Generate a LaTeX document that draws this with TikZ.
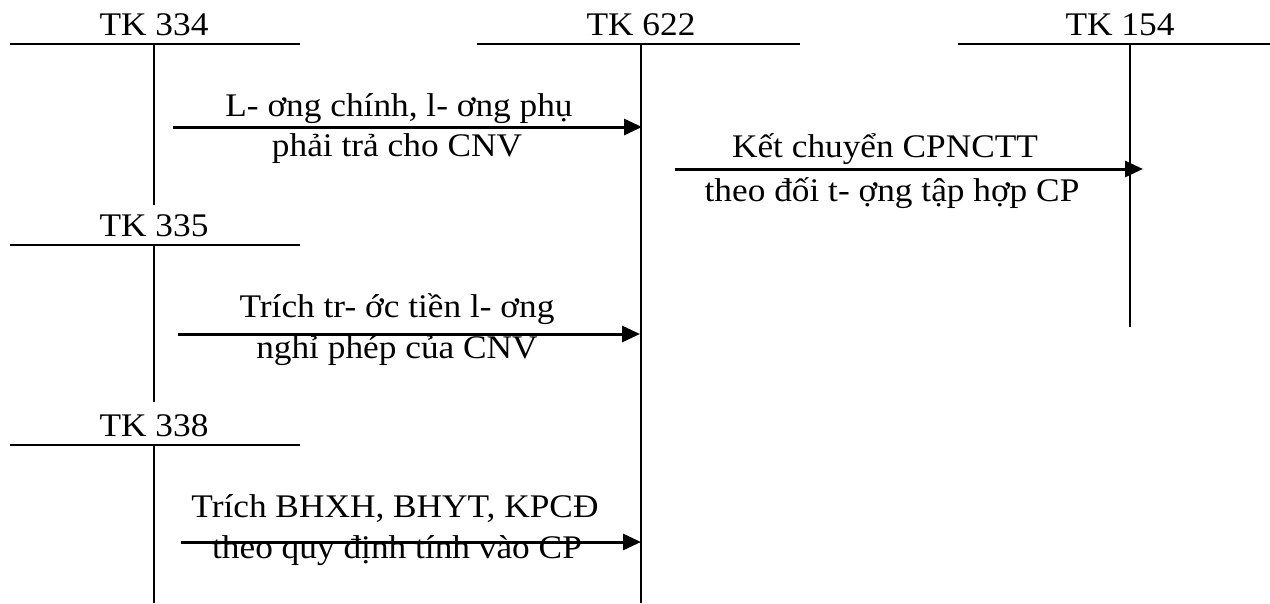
\documentclass[tikz,border=0pt]{standalone}
\usepackage{fontspec}
\setmainfont{Liberation Serif}
\usetikzlibrary{arrows.meta}
\begin{document}
\begin{tikzpicture}[x=1pt,y=-1pt,
  acct/.style={line width=2.6pt},
  flow/.style={line width=3pt,-{Triangle[length=18pt,width=16pt]}},
  lbl/.style={inner sep=0pt,anchor=base,xscale=1.07,font=\fontsize{33}{38}\selectfont},
  ttl/.style={inner sep=0pt,anchor=base,xscale=1.07,font=\fontsize{33}{38}\selectfont}]
\useasboundingbox (0,0) rectangle (1270,603);
% T accounts
\node[ttl] (t334) at (154,35) {TK 334};
\draw[acct] (10,44) -- (300,44);
\draw[acct] (154,44) -- (154,205);
\node[ttl] (t622) at (641,35) {TK 622};
\draw[acct] (477,44) -- (800,44);
\draw[acct] (641,44) -- (641,603);
\node[ttl] (t154) at (1120,35) {TK 154};
\draw[acct] (958,44) -- (1270,44);
\draw[acct] (1130,44) -- (1130,327);
\node[ttl] (t335) at (154,236) {TK 335};
\draw[acct] (10,245) -- (300,245);
\draw[acct] (154,245) -- (154,402);
\node[ttl] (t338) at (154,436) {TK 338};
\draw[acct] (10,445) -- (300,445);
\draw[acct] (154,445) -- (154,603);
% arrows
\coordinate (a1s) at (173,127); \coordinate (a1e) at (642,127);
\draw[flow] (a1s) -- (a1e);
\node[lbl] (l1a) at (399,116) {L- ơng chính, l- ơng phụ};
\node[lbl] (l1b) at (397,156) {phải trả cho CNV};
\coordinate (a2s) at (675,169); \coordinate (a2e) at (1143,169);
\draw[flow] (a2s) -- (a2e);
\node[lbl] (l2a) at (885,157) {Kết chuyển CPNCTT};
\node[lbl] (l2b) at (892,201) {theo đối t- ợng tập hợp CP};
\coordinate (a3s) at (178,334); \coordinate (a3e) at (640,334);
\draw[flow] (a3s) -- (a3e);
\node[lbl] (l3a) at (397,317) {Trích tr- ớc tiền l- ơng};
\node[lbl] (l3b) at (397,358) {nghỉ phép của CNV};
\coordinate (a4s) at (181,542); \coordinate (a4e) at (641,542);
\draw[flow] (a4s) -- (a4e);
\node[lbl] (l4a) at (395,517) {Trích BHXH, BHYT, KPCĐ};
\node[lbl] (l4b) at (397,558) {theo quy định tính vào CP};
\end{tikzpicture}
\end{document}
